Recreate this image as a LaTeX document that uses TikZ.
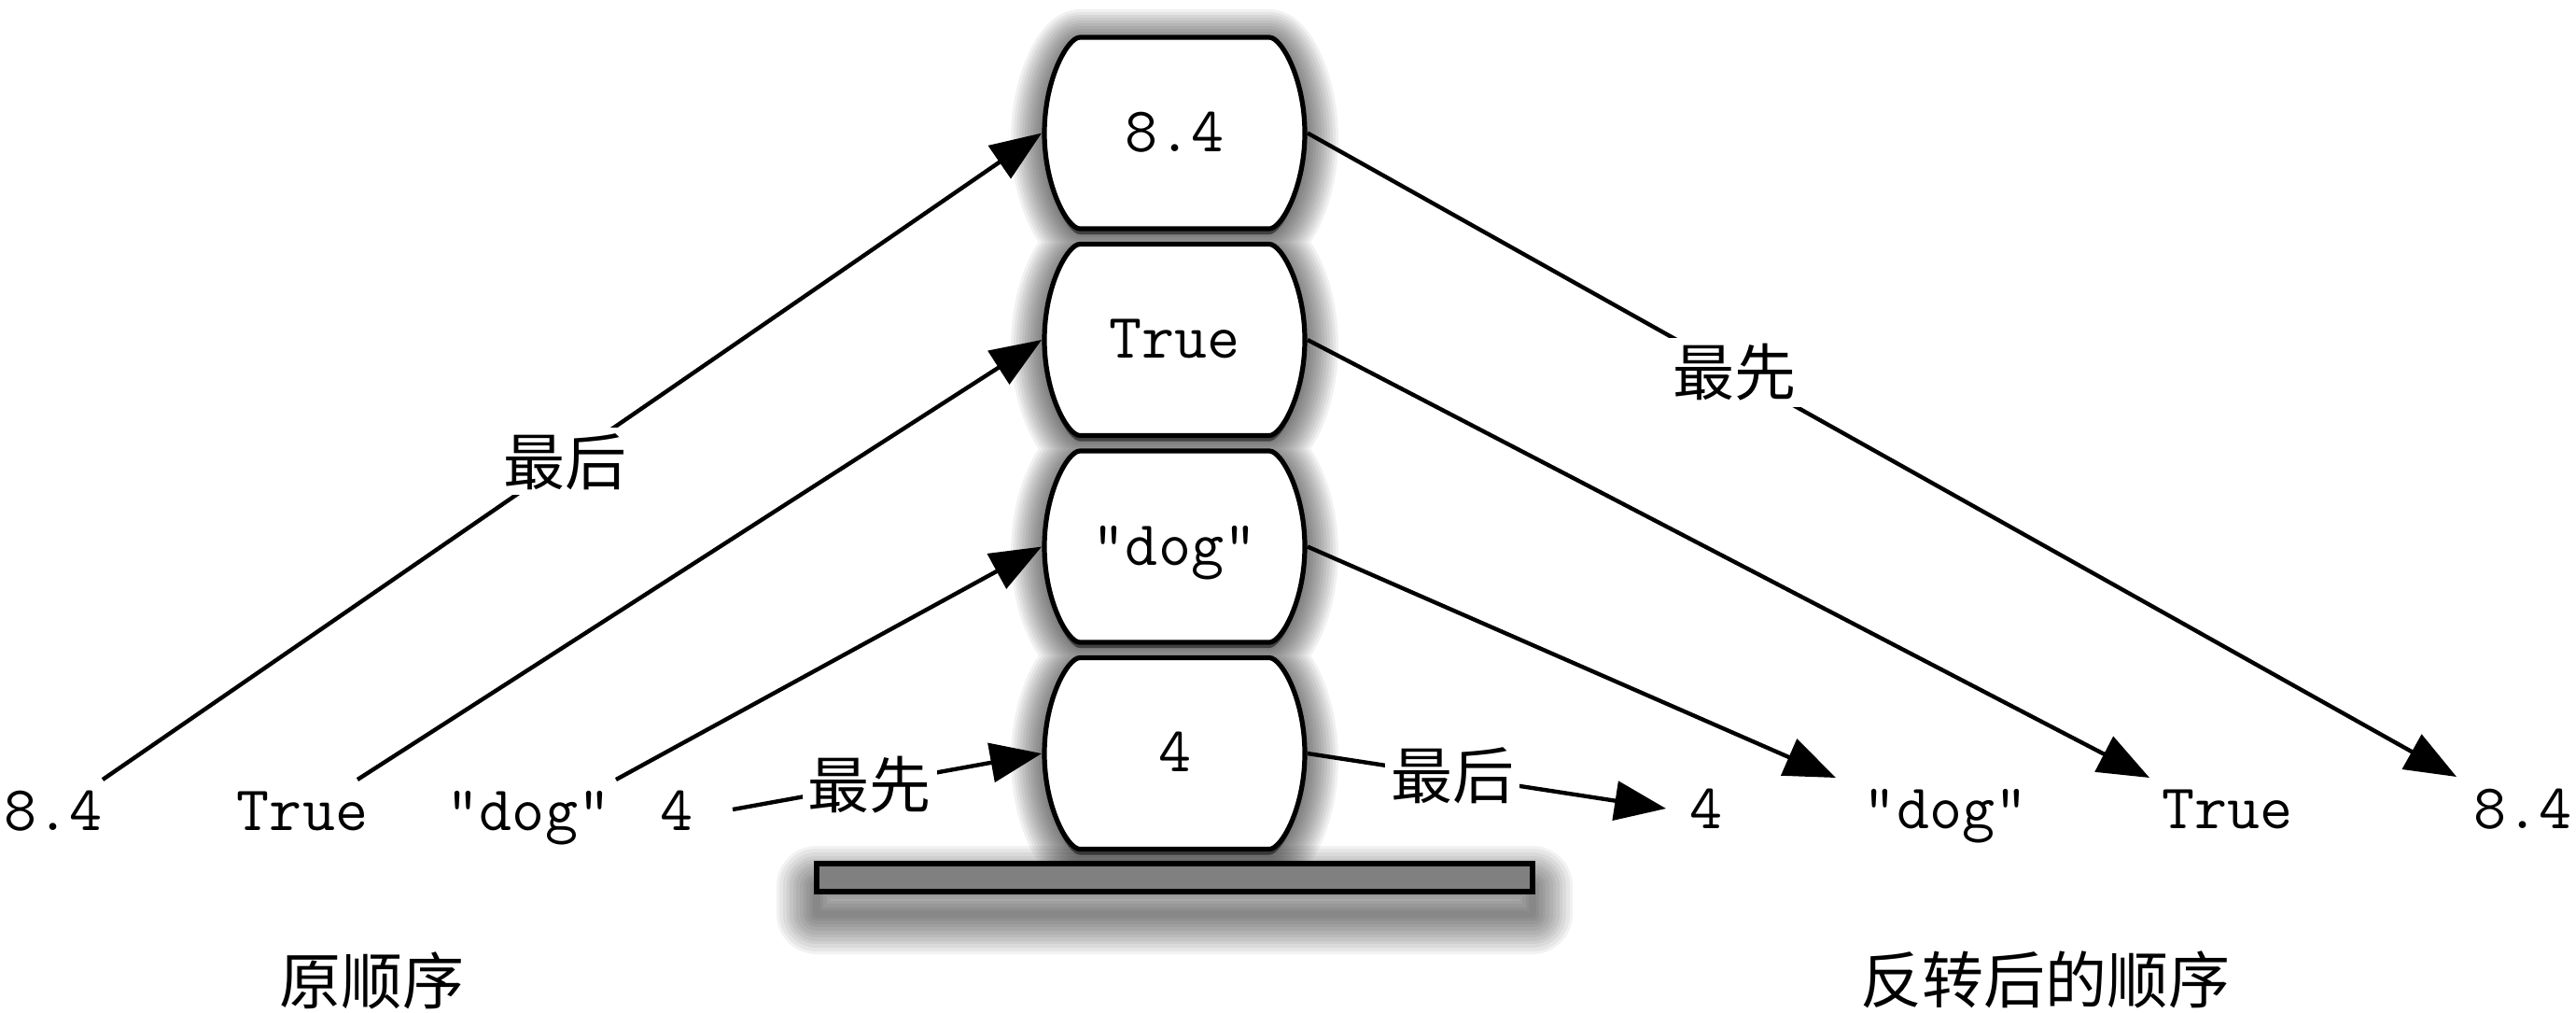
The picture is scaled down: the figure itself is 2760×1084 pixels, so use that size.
\documentclass[tikz,border=0pt]{standalone}
\usepackage{fontspec}
\newfontfamily\cjk{Noto Sans CJK SC}
\usetikzlibrary{arrows.meta,calc}
\newcommand\barrelpath[2]{(#1-101.5,#2-102.5) -- (#1+101.5,#2-102.5)
 .. controls (#1+114.5,#2-102.5) and (#1+139.5,#2-58) .. (#1+139.5,#2)
 .. controls (#1+139.5,#2+58) and (#1+114.5,#2+102.5) .. (#1+101.5,#2+102.5)
 -- (#1-101.5,#2+102.5)
 .. controls (#1-114.5,#2+102.5) and (#1-139.5,#2+58) .. (#1-139.5,#2)
 .. controls (#1-139.5,#2-58) and (#1-114.5,#2-102.5) .. (#1-101.5,#2-102.5) -- cycle}
\begin{document}
\begin{tikzpicture}[x=0.5pt,y=-0.5pt,
  mono/.style={font=\ttfamily\fontsize{34}{40}\selectfont, inner sep=0pt, anchor=base},
  cjkl/.style={font=\cjk\fontsize{33}{40}\selectfont, inner sep=0pt},
  lbl/.style={cjkl, fill=white, inner sep=3pt},
  arr/.style={line width=2.2pt, -{Triangle[length=27.5pt,width=21pt]}},
  boxn/.style={rectangle, minimum width=142pt, minimum height=102.5pt, inner sep=0pt,
    font=\ttfamily\fontsize{34}{40}\selectfont, text height=19.5pt, text depth=0pt},
  barrel/.style={draw=black, fill=white, line width=2.6pt, line join=round},
  plat/.style={draw=black, fill=black!50, line width=2.6pt}]
\useasboundingbox (0,0) rectangle (2760,1084);
% shadows
\foreach \k in {1,...,12}{
  \pgfmathsetmacro\lw{\k*3.6}
  \draw[black, opacity=0.05, line width=\lw pt, line join=round, shift={(0,24)}]
    (875,925) rectangle (1642,955);
}
\foreach \k in {1,...,12}{
  \pgfmathsetmacro\lw{\k*3.0}
  \fill[black, opacity=0.055, shift={(0,6)}, draw=black, line width=\lw pt, line join=round]
    \barrelpath{1258.5}{142.5} \barrelpath{1258.5}{364} \barrelpath{1258.5}{585.5} \barrelpath{1258.5}{807};
}
% platform
\path[plat] (875,925) rectangle (1642,955);
% boxes
\path[barrel] \barrelpath{1258.5}{142.5};
\path[barrel] \barrelpath{1258.5}{364};
\path[barrel] \barrelpath{1258.5}{585.5};
\path[barrel] \barrelpath{1258.5}{807};
\node[boxn] (b1) at (1258.5,142.5) {8.4};
\node[boxn] (b2) at (1258.5,364) {True};
\node[boxn] (b3) at (1258.5,585.5) {"dog"};
\node[boxn] (b4) at (1258.5,807) {4};
% original order
\node[mono] (L1) at (57,889) {8.4};
\node[mono] (L2) at (324,889) {True};
\node[mono] (L3) at (566.5,889) {"dog"};
\node[mono] (L4) at (724.5,889) {4};
% reversed order
\node[mono] (R1) at (1827.5,887) {4};
\node[mono] (R2) at (2084.5,887) {"dog"};
\node[mono] (R3) at (2386.5,887) {True};
\node[mono] (R4) at (2703,887) {8.4};
% titles
\node[cjkl] (T1) at (398,1050) {原顺序};
\node[cjkl] (T2) at (2191,1049) {反转后的顺序};
% connector ends
\coordinate (s1) at (110,835);
\coordinate (s2) at (383,835);
\coordinate (s3) at (660,835);
\coordinate (s4) at (785,867);
\coordinate (e1) at (1785,866);
\coordinate (e2) at (1967,833);
\coordinate (e3) at (2303,833);
\coordinate (e4) at (2632,832);
% push arrows
\draw[arr] (s1) -- node[lbl,pos=0.492] (m1) {最后} (b1.west);
\draw[arr] (s2) -- (b2.west);
\draw[arr] (s3) -- (b3.west);
\draw[arr] (s4) -- node[lbl,pos=0.443] (m2) {最先} (b4.west);
% pop arrows
\draw[arr] (b1.east) -- node[lbl,pos=0.372] (m3) {最先} (e4);
\draw[arr] (b2.east) -- (e3);
\draw[arr] (b3.east) -- (e2);
\draw[arr] (b4.east) -- node[lbl,pos=0.405] (m4) {最后} (e1);
\end{tikzpicture}
\end{document}
